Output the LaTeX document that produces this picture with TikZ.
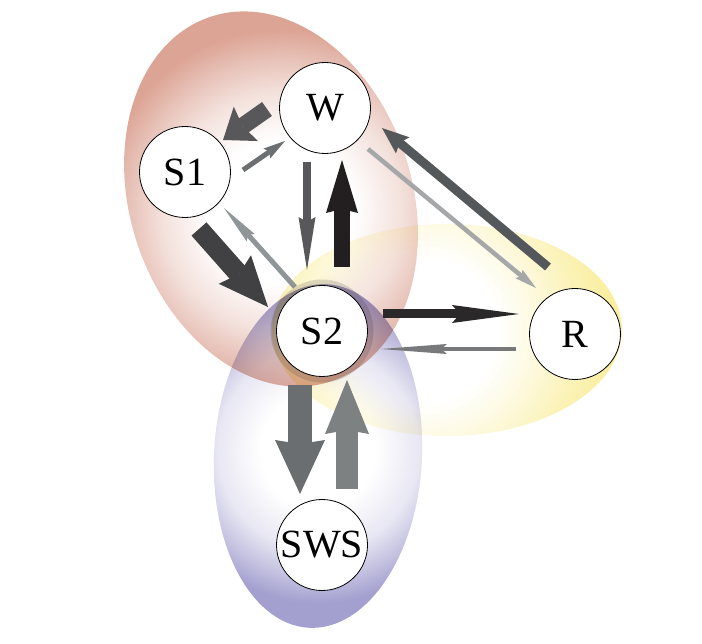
\documentclass[tikz,border=0pt]{standalone}
\usepackage{fontspec}
\setmainfont{Liberation Serif}
\usetikzlibrary{arrows.meta}
\definecolor{redE}{HTML}{DCA495}
\definecolor{yelE}{HTML}{FAEEA0}
\definecolor{bluE}{HTML}{A39FCF}
\definecolor{gA}{HTML}{58585A}
\definecolor{gB}{HTML}{6D7072}
\definecolor{gC}{HTML}{231F20}
\definecolor{gD}{HTML}{414143}
\definecolor{gE}{HTML}{909597}
\definecolor{gF}{HTML}{A5A7A8}
\definecolor{gG}{HTML}{55585A}
\definecolor{gH}{HTML}{2B2829}
\definecolor{gI}{HTML}{77797A}
\definecolor{gJ}{HTML}{6B6E70}
\definecolor{gK}{HTML}{7E8182}
% 25bp = radius of the shaded circle (240 px)
\pgfdeclareradialshading{redsh}{\pgfpoint{0bp}{0bp}}{color(0bp)=(white); color(7.5bp)=(white); color(12.5bp)=(redE!33!white); color(16bp)=(redE!68!white); color(19bp)=(redE); color(50bp)=(redE)}
\pgfdeclareradialshading{yelsh}{\pgfpoint{0bp}{0bp}}{color(0bp)=(white); color(7.5bp)=(white); color(11bp)=(yelE!28!white); color(16bp)=(yelE!75!white); color(19.5bp)=(yelE); color(50bp)=(yelE)}
\pgfdeclareradialshading{blush}{\pgfpoint{0bp}{0bp}}{color(0bp)=(white); color(6bp)=(white); color(10.5bp)=(bluE!25!white); color(13.5bp)=(bluE!65!white); color(16bp)=(bluE); color(50bp)=(bluE)}
\tikzset{
  st/.style={circle, draw=black, line width=0.8pt, fill=white, minimum size=91pt, inner sep=0pt, font=\fontsize{40}{42}\selectfont},
  ar/.style n args={5}{draw=#1, line width=#2, line cap=butt, -{Stealth[length=#3, width=#4, inset=#5, line width=0pt]}}
}
\begin{document}
\begin{tikzpicture}[x=1pt, y=-1pt]
\useasboundingbox (0,0) rectangle (702,644);
\begin{scope}[blend mode=multiply]
  \begin{scope}
    \clip[rotate around={18.4:(271,199)}] (271,199) ellipse [x radius=141, y radius=192];
    \shade[shading=redsh] (282,212) circle (240);
  \end{scope}
  \begin{scope}
    \clip (447,330) ellipse [x radius=175, y radius=106];
    \shade[shading=yelsh] (425,330) circle (240);
  \end{scope}
  \begin{scope}
    \clip[rotate around={-3:(318,456)}] (318,456) ellipse [x radius=104, y radius=172];
    \shade[shading=blush] (318,450) circle (240);
  \end{scope}
\end{scope}

\node[st] (W) at (325,108) {W};
\node[st] (S1) at (185,172) {S1};
\node[st, preaction={draw=black, fill=none, draw opacity=0.13, line width=12pt}] (S2) at (322,331) {S2};
\node[st] (R) at (575,334) {R};
\node[st] (SWS) at (322,545) {SWS};

% W -> S1
\draw[ar={gA}{17pt}{28pt}{42pt}{4pt}] ([shift={(-58,1)}]W.center) -- ([shift={(38,-32)}]S1.center);
% S1 -> W
\draw[ar={gB}{5pt}{22pt}{12pt}{3pt}] ([shift={(58,-2)}]S1.center) -- ([shift={(-40,33)}]W.center);
% W -> S2
\draw[ar={gA}{8pt}{53pt}{17pt}{5pt}] ([shift={(-18,54)}]W.center) -- ([shift={(-15,-61)}]S2.center);
% S2 -> W
\draw[ar={gC}{16pt}{53pt}{32pt}{4pt}] ([shift={(20,-64)}]S2.center) -- ([shift={(17,52)}]W.center);
% S1 -> S2
\draw[ar={gD}{20pt}{50pt}{43pt}{6pt}] ([shift={(14,57)}]S1.center) -- ([shift={(-54,-24)}]S2.center);
% S2 -> S1
\draw[ar={gE}{5pt}{40pt}{11pt}{4pt}] ([shift={(-27,-44)}]S2.center) -- ([shift={(39,36)}]S1.center);
% W -> R
\draw[ar={gF}{4.5pt}{22pt}{11pt}{3pt}] ([shift={(43,41)}]W.center) -- ([shift={(-39,-46)}]R.center);
% R -> W
\draw[ar={gG}{9pt}{27pt}{21pt}{4pt}] ([shift={(-27,-67)}]R.center) -- ([shift={(57,20)}]W.center);
% S2 -> R
\draw[ar={gH}{9pt}{67pt}{18pt}{8pt}] ([shift={(61,-17)}]S2.center) -- ([shift={(-56,-20)}]R.center);
% R -> S2
\draw[ar={gI}{4.5pt}{66pt}{10pt}{6pt}] ([shift={(-59,15)}]R.center) -- ([shift={(59,18)}]S2.center);
% S2 -> SWS
\draw[ar={gJ}{24pt}{54pt}{50pt}{4pt}] ([shift={(-22,54)}]S2.center) -- ([shift={(-22,-51)}]SWS.center);
% SWS -> S2
\draw[ar={gK}{22pt}{54pt}{44pt}{4pt}] ([shift={(25,-56)}]SWS.center) -- ([shift={(25,49)}]S2.center);
\end{tikzpicture}
\end{document}
